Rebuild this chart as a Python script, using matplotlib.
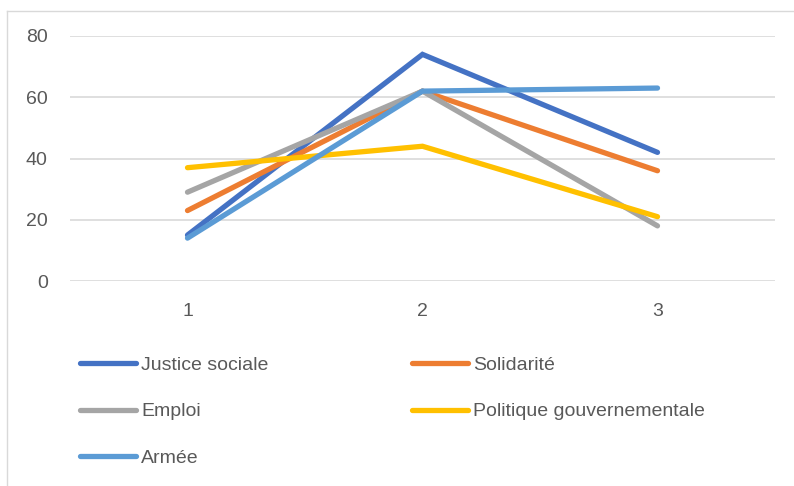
import matplotlib
matplotlib.use("Agg")
import matplotlib.pyplot as plt
from matplotlib.lines import Line2D

# data
x_vals = [1, 2, 3]
series_names = ["Justice sociale", "Solidarité", "Emploi",
                "Politique gouvernementale", "Armée"]
justice = [15, 74, 42]
solidarite = [23, 62, 36]
emploi = [29, 62, 18]
politique = [37, 44, 21]
armee = [14, 62, 63]
y_ticks = [0, 20, 40, 60, 80]

colors = ["#4472C4", "#ED7D31", "#A5A5A5", "#FFC000", "#5B9BD5"]

plt.rcParams['font.family'] = ['Liberation Sans Narrow', 'Liberation Sans', 'DejaVu Sans']

fig = plt.figure(figsize=(7.94, 4.86), dpi=100)
ax = fig.add_axes([70 / 794, 1 - 281 / 486, 705 / 794, 245 / 486])

lines = []
for vals, name, c in zip([justice, solidarite, emploi, politique, armee], series_names, colors):
    ln, = ax.plot(x_vals, vals, color=c, lw=3.8, label=name,
                  solid_capstyle='round', solid_joinstyle='miter', clip_on=False)
    lines.append(ln)

ax.set_xlim(0.5, 3.5)
ax.set_ylim(0, 80)
ax.set_yticks(y_ticks)
ax.set_xticks(x_vals)
ax.grid(axis='y', color='#D9D9D9', lw=1.2)
ax.set_axisbelow(True)
for s in ax.spines.values():
    s.set_visible(False)
ax.tick_params(axis='both', length=0, labelsize=14, colors='#595959')
ax.tick_params(axis='x', pad=16)
ax.tick_params(axis='y', pad=16)

# legend fills column-wise, so reorder to read row-wise like the original
order = [0, 2, 4, 1, 3]
leg = fig.legend([lines[i] for i in order], [series_names[i] for i in order],
                 loc='upper left', bbox_to_anchor=(80 / 794, 1 - 356 / 486), ncol=2,
                 frameon=False, fontsize=14, handlelength=2.9, handletextpad=0.25,
                 labelspacing=1.5, columnspacing=7.35, borderaxespad=0, borderpad=0)
for t in leg.get_texts():
    t.set_color('#595959')

# light frame of the chart area
fig.add_artist(Line2D([7 / 794, 7 / 794], [0, 1 - 11 / 486], transform=fig.transFigure,
                      color='#D9D9D9', lw=1))
fig.add_artist(Line2D([7 / 794, 1], [1 - 11 / 486, 1 - 11 / 486], transform=fig.transFigure,
                      color='#D9D9D9', lw=1))

fig.savefig("out.png", dpi=100)
